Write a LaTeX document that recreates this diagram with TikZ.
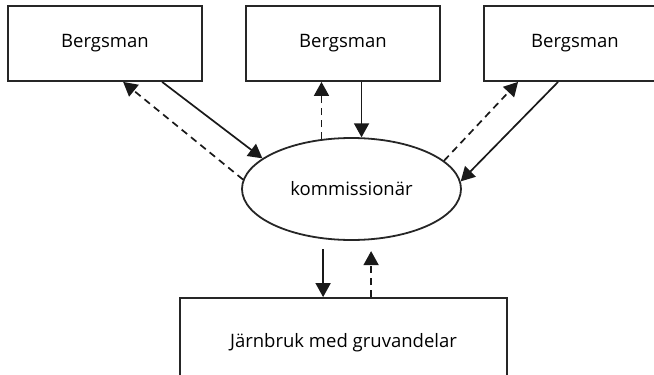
\documentclass[tikz,border=0pt]{standalone}
\usepackage{fontspec}
\setmainfont{Open Sans}
\usetikzlibrary{arrows.meta,shapes.geometric,calc}
\begin{document}
\begin{tikzpicture}[x=1pt,y=-1pt,
  box/.style={draw=black!85,line width=1.8pt,inner sep=0pt,font=\fontsize{18.5}{22}\selectfont},
  oval/.style={ellipse,draw=black!85,line width=1.8pt,inner sep=0pt,minimum width=219pt,minimum height=102pt,font=\fontsize{18.5}{22}\selectfont},
  conn/.style={line width=1.7pt,black!90,-{Triangle[length=14pt,width=15pt]}},
  dconn/.style={conn,dash pattern=on 7pt off 5pt}]
\useasboundingbox (0,0) rectangle (654,375);
\clip (0,0) rectangle (654,375);
\node[box,minimum width=194pt,minimum height=75pt] (b1) at (105,43.5) {Bergsman};
\node[box,minimum width=194pt,minimum height=75pt] (b2) at (343,43.5) {Bergsman};
\node[box,minimum width=182pt,minimum height=75pt] (b3) at (575,43.5) {Bergsman};
\node[oval] (k) at (351.5,189) {kommissionär};
\node[box,minimum width=327pt,minimum height=90pt] (j) at (343.5,343) {Järnbruk med gruvandelar};
% Bergsman 1
\draw[conn] ($(b1.south west)+(155,0)$) -- (k.161.7);
\draw[dconn] (k.175.3) -- ($(b1.south west)+(116,0)$);
% Bergsman 2
\draw[dconn] (k.121) -- (k.121 |- b2.south);
\draw[conn] (k.79 |- b2.south) -- (k.79);
% Bergsman 3
\draw[dconn] (k.17.5) -- ($(b3.south west)+(35,0)$);
\draw[conn] ($(b3.south west)+(75,0)$) -- (k.4.7);
% Järnbruk
\coordinate (s1) at ($(j.north west)+(144,-48)$);
\coordinate (d1) at ($(j.north west)+(192,0)$);
\coordinate (d2) at ($(j.north west)+(192,-46)$);
\draw[conn] (s1) -- (s1 |- j.north);
\draw[dconn] (d1) -- (d2);
\end{tikzpicture}
\end{document}
